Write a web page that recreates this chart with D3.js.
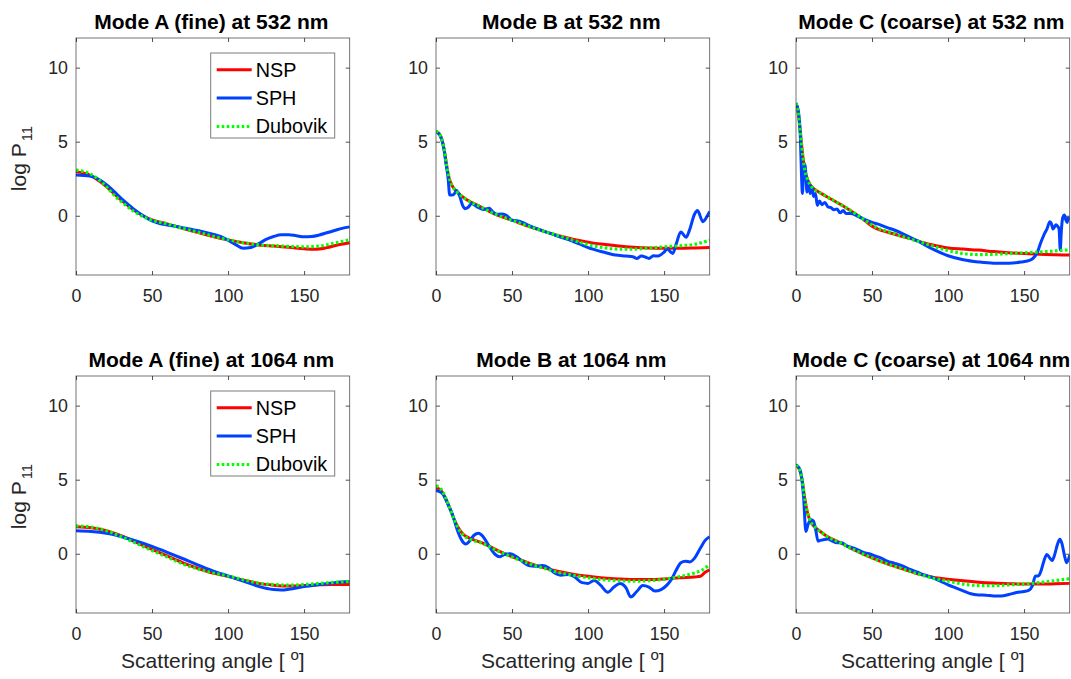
<!DOCTYPE html>
<html><head><meta charset="utf-8">
<script src="https://cdn.jsdelivr.net/npm/d3@7"></script>
<style>
body{margin:0;background:#fff;}
text{font-family:"Liberation Sans",Arial,Helvetica,sans-serif;}
</style></head>
<body><svg id="c" width="1071" height="679"></svg>
<script>
// ---- data (scattering angle in degrees, log P11) ----
const titles = ["Mode A (fine) at 532 nm","Mode B at 532 nm","Mode C (coarse) at 532 nm",
                "Mode A (fine) at 1064 nm","Mode B at 1064 nm","Mode C (coarse) at 1064 nm"];
const seriesNames = ["NSP","SPH","Dubovik"];
const xTicks = [0,50,100,150];
const yTicks = [0,5,10];

const nspA532 = [[0,2.97],[9,2.75],[16,2.3],[20,1.96],[26,1.4],[31,0.95],[38,0.38],[45,-0.05],[50,-0.28],[60,-0.55],[70,-0.85],[80,-1.12],[90,-1.4],[100,-1.63],[110,-1.82],[120,-1.97],[130,-2.05],[140,-2.13],[150,-2.23],[157,-2.27],[165,-2.15],[172,-1.97],[180,-1.82]];
const sphA532 = [[0,2.75],[9,2.68],[16,2.4],[20,2.1],[26,1.55],[31,1.05],[38,0.45],[45,-0.05],[50,-0.35],[55,-0.52],[60,-0.62],[70,-0.8],[80,-1.0],[90,-1.25],[95,-1.4],[100,-1.65],[105,-1.95],[110,-2.2],[115,-2.15],[120,-1.9],[125,-1.6],[130,-1.4],[135,-1.28],[140,-1.28],[145,-1.35],[150,-1.42],[155,-1.4],[160,-1.3],[165,-1.15],[170,-1.0],[175,-0.85],[180,-0.75]];
const dubA532 = [[0,3.08],[9,2.85],[16,2.35],[20,1.95],[26,1.3],[31,0.85],[38,0.3],[45,-0.1],[50,-0.3],[60,-0.55],[70,-0.85],[80,-1.1],[90,-1.38],[100,-1.62],[110,-1.82],[120,-1.97],[130,-2.02],[140,-2.07],[150,-2.1],[160,-2.05],[170,-1.85],[180,-1.62]];

const nspB532 = [[0,5.68],[2,5.55],[4,5.1],[5.5,4.4],[7,3.4],[8.5,2.6],[10.5,2.05],[13.5,1.65],[20,1.1],[29,0.62],[38,0.15],[50,-0.3],[60,-0.68],[70,-1.02],[80,-1.33],[90,-1.58],[100,-1.78],[110,-1.93],[120,-2.04],[130,-2.12],[140,-2.17],[150,-2.19],[160,-2.19],[170,-2.17],[180,-2.14]];
const sphB532 = [[0,5.68],[3,5.34],[5.3,4.44],[6.6,3.5],[8,2.5],[9,1.4],[11.5,1.42],[13.5,1.7],[15.5,1.35],[17.5,0.7],[19,0.48],[21,0.55],[23.5,0.83],[27,0.6],[31,0.43],[35,0.5],[37,0.3],[40,0.1],[43,0.12],[46,0.05],[50,-0.3],[54,-0.35],[58,-0.5],[62,-0.7],[70,-1.0],[80,-1.38],[90,-1.72],[100,-2.15],[110,-2.45],[118,-2.65],[125,-2.72],[130,-2.78],[132,-2.88],[135,-2.72],[138,-2.8],[140,-2.88],[143,-2.7],[146,-2.72],[150,-2.45],[152,-2.25],[155.7,-2.55],[158,-1.9],[161,-1.1],[164.5,-1.45],[166.7,-0.97],[170,0.1],[172,0.35],[175.5,-0.4],[178.5,0.0],[180,0.3]];
const dubB532 = [[0,5.7],[2,5.55],[4,5.1],[5.5,4.4],[7,3.4],[8.5,2.6],[10.5,2.05],[13.5,1.65],[20,1.1],[29,0.62],[38,0.15],[50,-0.3],[60,-0.68],[70,-1.02],[80,-1.33],[90,-1.65],[100,-1.95],[110,-2.15],[120,-2.25],[130,-2.25],[140,-2.18],[150,-2.1],[160,-2.03],[170,-1.93],[180,-1.65]];

const nspC532 = [[0,7.6],[1.5,6.9],[3,5.5],[4.5,4.0],[6,3.0],[8,2.35],[10,2.0],[15,1.6],[20,1.3],[30,0.72],[40,0.05],[45,-0.3],[50,-0.7],[55,-0.95],[60,-1.1],[70,-1.4],[75,-1.53],[80,-1.7],[85,-1.85],[90,-1.98],[100,-2.18],[110,-2.25],[120,-2.32],[130,-2.42],[140,-2.5],[150,-2.55],[160,-2.6],[170,-2.63],[180,-2.65]];
const sphC532 = [[0,7.6],[1.5,7.1],[2.8,5.5],[3.7,2.5],[4.2,1.5],[5,3.0],[5.7,3.5],[6.5,2.8],[7.2,1.6],[8.2,2.3],[9.2,1.5],[10.3,2.0],[11.5,1.3],[12.8,1.5],[14,0.7],[15.5,1.0],[17,0.75],[19,0.9],[21,0.6],[23,0.55],[25,0.4],[27,0.45],[29,0.2],[31,0.35],[33,0.15],[36,0.15],[40,0.0],[45,-0.25],[50,-0.45],[55,-0.6],[60,-0.8],[65,-0.98],[70,-1.2],[80,-1.7],[90,-2.25],[100,-2.7],[110,-2.97],[120,-3.12],[130,-3.2],[140,-3.2],[148,-3.12],[154,-3.0],[157,-2.75],[159,-2.4],[161,-1.8],[163,-1.3],[165,-0.9],[167,-0.4],[168,-0.55],[169,-0.9],[170,-0.75],[171,-0.6],[172,-0.7],[173,-0.9],[173.8,-2.3],[174.5,-1.0],[175.5,-0.1],[176.5,0.05],[177.5,-0.3],[178.3,-0.45],[179,-0.15],[180,-0.3]];
const dubC532 = [[0,7.6],[1.5,6.9],[3,5.5],[4.5,4.0],[6,3.0],[8,2.35],[10,2.0],[15,1.6],[20,1.3],[30,0.72],[40,0.08],[45,-0.28],[50,-0.62],[55,-0.9],[60,-1.05],[70,-1.4],[80,-1.72],[90,-2.05],[100,-2.35],[110,-2.55],[120,-2.62],[130,-2.6],[140,-2.55],[150,-2.5],[160,-2.45],[170,-2.38],[180,-2.3]];

const nspA1064 = [[0,1.82],[10,1.75],[20,1.55],[30,1.2],[40,0.75],[50,0.3],[60,-0.15],[70,-0.6],[80,-0.98],[90,-1.3],[100,-1.52],[110,-1.78],[120,-2.0],[130,-2.12],[140,-2.18],[150,-2.15],[160,-2.1],[170,-2.08],[180,-2.07]];
const sphA1064 = [[0,1.55],[10,1.5],[20,1.38],[30,1.15],[40,0.85],[50,0.5],[60,0.1],[70,-0.32],[80,-0.75],[90,-1.15],[100,-1.5],[110,-1.85],[120,-2.2],[130,-2.42],[135,-2.45],[140,-2.4],[150,-2.22],[160,-2.08],[170,-1.95],[180,-1.88]];
const dubA1064 = [[0,1.88],[10,1.8],[20,1.55],[30,1.15],[40,0.68],[50,0.22],[60,-0.22],[70,-0.68],[80,-1.02],[90,-1.3],[100,-1.5],[110,-1.75],[120,-1.98],[130,-2.08],[140,-2.12],[150,-2.08],[160,-2.0],[170,-1.93],[180,-1.87]];

const nspB1064 = [[0,4.46],[3,4.3],[6,3.8],[9,3.1],[12,2.3],[15,1.7],[18,1.3],[22,1.05],[30,0.75],[40,0.25],[50,-0.2],[60,-0.58],[70,-0.92],[80,-1.18],[90,-1.38],[100,-1.52],[110,-1.63],[120,-1.7],[130,-1.74],[140,-1.74],[150,-1.7],[160,-1.62],[170,-1.57],[174,-1.52],[177,-1.25],[180,-1.08]];
const sphB1064 = [[0,4.28],[4,4.1],[8,3.3],[11,2.6],[14,1.6],[17,0.9],[19.5,0.65],[22,0.85],[25,1.25],[28,1.38],[31,1.15],[35,0.5],[39,-0.05],[42,-0.2],[45,-0.05],[49,0.0],[53,-0.2],[57,-0.55],[61,-0.8],[65,-0.85],[70,-0.8],[74,-0.95],[78,-1.3],[82,-1.45],[87,-1.4],[91,-1.55],[96,-1.95],[100,-2.0],[104,-1.8],[108,-2.1],[113,-2.6],[117,-2.25],[121,-2.0],[125,-2.3],[128,-2.92],[132,-2.55],[136,-2.15],[140,-2.25],[144,-2.52],[148,-2.42],[152,-2.1],[155,-1.7],[158,-1.1],[161,-0.6],[164,-0.5],[167,-0.55],[170,-0.3],[174,0.4],[177,0.9],[180,1.15]];
const dubB1064 = [[0,4.58],[3,4.4],[6,3.85],[9,3.1],[12,2.3],[15,1.65],[18,1.25],[22,1.0],[30,0.72],[40,0.22],[50,-0.22],[60,-0.62],[70,-0.95],[80,-1.25],[90,-1.45],[100,-1.62],[110,-1.75],[120,-1.82],[130,-1.85],[140,-1.82],[150,-1.72],[160,-1.55],[170,-1.3],[175,-1.1],[180,-0.72]];

const nspC1064 = [[0,5.97],[2,5.75],[4,5.0],[5.5,3.9],[7,3.0],[8.5,2.45],[10,2.1],[13,1.75],[16,1.5],[20,1.2],[30,0.7],[40,0.18],[50,-0.28],[60,-0.68],[70,-1.02],[80,-1.35],[90,-1.58],[100,-1.72],[110,-1.83],[120,-1.92],[130,-1.98],[140,-2.02],[150,-2.05],[160,-2.05],[170,-2.03],[180,-2.0]];
const sphC1064 = [[0,6.0],[2,5.8],[3.5,5.3],[5,3.8],[6.5,1.5],[8,2.0],[10,2.3],[11.5,2.2],[13,1.6],[14.5,0.85],[16,0.9],[18,0.95],[21,1.0],[24,0.85],[27,0.75],[30,0.75],[33,0.55],[36,0.45],[40,0.3],[44,0.1],[48,0.0],[52,-0.15],[56,-0.3],[60,-0.5],[65,-0.65],[70,-0.82],[75,-1.05],[80,-1.25],[85,-1.45],[90,-1.62],[95,-1.85],[100,-2.1],[105,-2.3],[110,-2.5],[115,-2.7],[120,-2.78],[125,-2.8],[130,-2.85],[135,-2.85],[140,-2.75],[145,-2.62],[150,-2.55],[153,-2.48],[155.5,-2.15],[157.5,-1.5],[159.5,-1.5],[161,-1.2],[163,-0.5],[165,-0.05],[167,-0.3],[168.5,-0.45],[170,-0.1],[172,0.65],[173.5,0.98],[175,0.65],[176.5,-0.1],[178,-0.6],[180,-0.1]];
const dubC1064 = [[0,5.97],[2,5.75],[4,5.0],[5.5,3.9],[7,3.0],[8.5,2.45],[10,2.1],[13,1.75],[16,1.5],[20,1.2],[30,0.7],[40,0.18],[50,-0.28],[60,-0.68],[70,-1.02],[80,-1.35],[90,-1.65],[100,-1.85],[110,-2.05],[120,-2.15],[130,-2.15],[140,-2.1],[150,-2.05],[160,-1.95],[170,-1.82],[180,-1.68]];

const panelData = [
  [nspA532, sphA532, dubA532],
  [nspB532, sphB532, dubB532],
  [nspC532, sphC532, dubC532],
  [nspA1064, sphA1064, dubA1064],
  [nspB1064, sphB1064, dubB1064],
  [nspC1064, sphC1064, dubC1064]
];

// ---- layout / style ----
const colLeft = [76, 436, 796];
const rowTop = [38, 376];
const W = 273.7, H = 237;
const colors = ["#ff0000", "#0040ff", "#00ff00"];
const axisColor = "#262626";

const svg = d3.select("#c");

panelData.forEach((series, i) => {
  const col = i % 3, row = Math.floor(i / 3);
  const g = svg.append("g").attr("transform", `translate(${colLeft[col]},${rowTop[row]})`);
  const x = d3.scaleLinear().domain([0, 180]).range([0, W]);
  const y = d3.scaleLinear().domain([-4, 12]).range([H, 0]);

  const cid = "clip" + i;
  g.append("clipPath").attr("id", cid).append("rect").attr("width", W).attr("height", H);

  const line = d3.line().x(d => x(d[0])).y(d => y(d[1])).curve(d3.curveMonotoneX);
  const lg = g.append("g").attr("clip-path", `url(#${cid})`);
  series.forEach((s, k) => {
    lg.append("path").datum(s).attr("d", line)
      .attr("fill", "none").attr("stroke", colors[k])
      .attr("stroke-width", k === 2 ? 3.2 : 3)
      .attr("stroke-linejoin", "round")
      .attr("stroke-dasharray", k === 2 ? "2.6,2.4" : null);
  });

  const fs = "17.8px";
  const bottom = g.append("g").attr("transform", `translate(0,${H})`)
    .call(d3.axisBottom(x).tickValues(xTicks).tickSizeInner(-4).tickSizeOuter(0).tickPadding(14.5));
  const left = g.append("g")
    .call(d3.axisLeft(y).tickValues(yTicks).tickSizeInner(-4).tickSizeOuter(0).tickPadding(8));
  const top = g.append("g")
    .call(d3.axisTop(x).tickValues(xTicks).tickSizeInner(-4).tickSizeOuter(0).tickFormat(""));
  const right = g.append("g").attr("transform", `translate(${W},0)`)
    .call(d3.axisRight(y).tickValues(yTicks).tickSizeInner(-4).tickSizeOuter(0).tickFormat(""));
  [bottom, left, top, right].forEach(a => {
    a.select(".domain").remove();
    a.selectAll("line").attr("stroke", axisColor).attr("stroke-width", 0.8);
    a.selectAll("text").attr("fill", axisColor).style("font-size", fs)
      .style("font-family", '"Liberation Sans",Arial,sans-serif');
  });
  g.append("rect").attr("width", W).attr("height", H)
    .attr("fill", "none").attr("stroke", axisColor).attr("stroke-width", 0.8).attr("stroke-opacity", 0.8);

  // title
  g.append("text").attr("x", W / 2 - 1.5).attr("y", -8.7)
    .attr("text-anchor", "middle").attr("font-weight", "bold")
    .style("font-size", "21px").attr("fill", "#000").text(titles[i]);

  // y label
  if (col === 0) {
    const t = g.append("text").attr("transform", `translate(-50,${H / 2 + 2}) rotate(-90)`)
      .attr("text-anchor", "middle").attr("fill", axisColor).style("font-size", "21px");
    t.append("tspan").text("log P");
    t.append("tspan").attr("dx", 2).attr("dy", 6).style("font-size", "15px").text("11");
  }
  // x label
  if (row === 1) {
    const t = g.append("text").attr("x", W / 2).attr("y", 668 - rowTop[1])
      .attr("text-anchor", "middle").attr("fill", axisColor).style("font-size", "21px");
    t.append("tspan").text("Scattering angle [ ");
    t.append("tspan").attr("dy", -8).style("font-size", "15px").text("o");
    t.append("tspan").attr("dy", 8).text("]");
  }
  // legend
  if (col === 0) {
    const lgX = W - 15 - 124, lgY = 15;
    const L = g.append("g").attr("transform", `translate(${lgX},${lgY})`);
    L.append("rect").attr("width", 124).attr("height", 85)
      .attr("fill", "#fff").attr("stroke", "#262626").attr("stroke-opacity", 0.6).attr("stroke-width", 1);
    seriesNames.forEach((n, k) => {
      const cy = 16.7 + k * 28.4;
      L.append("line").attr("x1", 6).attr("x2", 41).attr("y1", cy).attr("y2", cy)
        .attr("stroke", colors[k]).attr("stroke-width", k === 2 ? 3.2 : 3)
        .attr("stroke-dasharray", k === 2 ? "2.6,2.4" : null);
      L.append("text").attr("x", 45).attr("y", cy + 6.8).attr("fill", "#000")
        .style("font-size", "19.8px").text(n);
    });
  }
});
</script></body></html>
